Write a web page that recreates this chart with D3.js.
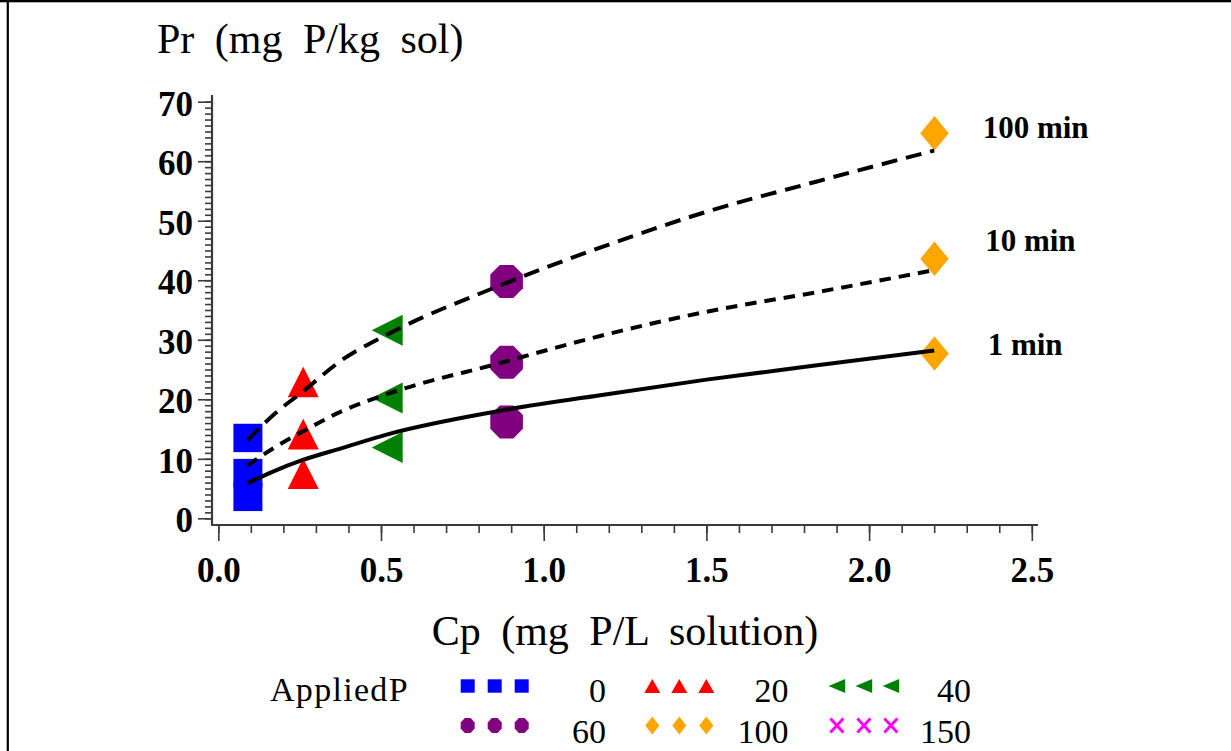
<!DOCTYPE html>
<html>
<head>
<meta charset="utf-8">
<script src="https://cdn.jsdelivr.net/npm/d3@7"></script>
<style>
  html, body { margin: 0; padding: 0; background: #fff; }
  svg { display: block; font-family: "Liberation Serif", "Times New Roman", serif; }
</style>
</head>
<body>
<svg id="chart" width="1231" height="751"></svg>
<script>
// Applied P groups (mg P/kg soil), one marker style each
const appliedP = [0, 20, 40, 60, 100, 150];
const groupColors = ["#0000ff", "#ff0000", "#008000", "#800080", "#ffa500", "#ff00ff"];
const groupShapes = ["square", "triangle", "leftTriangle", "octagon", "diamond", "cross"];

// Observed solution P (Cp) per applied-P group; the 150 group has no plotted observations
const obsCp = [0.091, 0.261, 0.519, 0.886, 2.201, null];
// Retained P (Pr) at the three reaction times, per applied-P group
const obsPr1min = [3.6, 7.5, 11.9, 16.2, 27.7, null];
const obsPr10min = [7.6, 14.15, 20.2, 26.2, 43.6, null];
const obsPr100min = [13.5, 22.9, 31.6, 39.8, 64.7, null];

// Fitted curves at each reaction time
const fitCp = [0.09, 0.17, 0.26, 0.38, 0.52, 0.86, 1.2, 1.5, 1.84, 2.2];
const fit1min = [5.9, 7.9, 9.8, 11.8, 14.1, 18.0, 20.9, 23.3, 25.7, 28.2];
const fit10min = [8.9, 11.8, 14.6, 18.0, 20.9, 26.0, 31.0, 34.7, 38.0, 41.7];
const fit100min = [13.1, 17.4, 21.3, 26.6, 30.9, 39.0, 46.0, 51.5, 56.6, 61.8];
const fitLabels = ["1 min", "10 min", "100 min"];

// Axis ticks
const yMajorTicks = [0, 10, 20, 30, 40, 50, 60, 70];
const xMajorTicks = [0, 0.5, 1.0, 1.5, 2.0, 2.5];
const xTickLabels = ["0.0", "0.5", "1.0", "1.5", "2.0", "2.5"];

const svg = d3.select("#chart");

const x = d3.scaleLinear().domain([0, 2.5]).range([218.3, 1031.8]);
const y = d3.scaleLinear().domain([0, 70]).range([518.3, 101.7]);

const axisX = 212;   // left edge of plot frame
const axisY = 525;   // bottom edge of plot frame

// Outer frame lines
svg.append("rect").attr("x", 0).attr("y", 0).attr("width", 1231).attr("height", 2.3).attr("fill", "#000");
svg.append("rect").attr("x", 6.7).attr("y", 0).attr("width", 2.2).attr("height", 751).attr("fill", "#000");

// Marker path builder: half-width hw, half-height hh
function shapePath(kind, hw, hh) {
  const p = d3.path();
  if (kind === "square") {
    p.rect(-hw, -hh, 2 * hw, 2 * hh);
  } else if (kind === "triangle") {
    p.moveTo(0, -hh); p.lineTo(hw, hh); p.lineTo(-hw, hh); p.closePath();
  } else if (kind === "leftTriangle") {
    p.moveTo(-hw, 0); p.lineTo(hw, -hh); p.lineTo(hw, hh); p.closePath();
  } else if (kind === "diamond") {
    p.moveTo(0, -hh); p.lineTo(hw, 0); p.lineTo(0, hh); p.lineTo(-hw, 0); p.closePath();
  } else if (kind === "octagon") {
    for (let k = 0; k < 8; k++) {
      const a = Math.PI / 8 + k * Math.PI / 4;
      const px = Math.cos(a) * hw / Math.cos(Math.PI / 8);
      const py = Math.sin(a) * hh / Math.cos(Math.PI / 8);
      if (k === 0) p.moveTo(px, py); else p.lineTo(px, py);
    }
    p.closePath();
  } else if (kind === "cross") {
    p.moveTo(-hw, -hh); p.lineTo(hw, hh);
    p.moveTo(hw, -hh); p.lineTo(-hw, hh);
  }
  return p.toString();
}

const plotSize = {
  square: [14.5, 14.2], triangle: [15.5, 15.3], leftTriangle: [15.5, 15.5],
  octagon: [16.3, 16.5], diamond: [14.2, 17.2], cross: [13, 13]
};
const legendSize = {
  square: [7, 6.7], triangle: [8, 6.9], leftTriangle: [8.3, 6.9],
  octagon: [7, 7.4], diamond: [7, 9], cross: [6.5, 7]
};

function drawMarker(g, kind, color, size, cx, cy) {
  const [hw, hh] = size[kind];
  const el = g.append("path")
    .attr("d", shapePath(kind, hw, hh))
    .attr("transform", `translate(${cx},${cy})`);
  if (kind === "cross") {
    el.attr("fill", "none").attr("stroke", color).attr("stroke-width", 3);
  } else {
    el.attr("fill", color);
  }
}

// Observations
const obsLayer = svg.append("g");
const obsRows = [obsPr1min, obsPr10min, obsPr100min];
appliedP.forEach((ap, i) => {
  if (obsCp[i] == null) return;
  obsRows.forEach(row => {
    drawMarker(obsLayer, groupShapes[i], groupColors[i], plotSize, x(obsCp[i]), y(row[i]));
  });
});

// Fitted curves, drawn over the markers
const fits = [fit1min, fit10min, fit100min];
const dashes = [null, "11.5,8", "16,9"];
const line = d3.line()
  .x(d => x(d[0]))
  .y(d => y(d[1]))
  .curve(d3.curveMonotoneX);
fits.forEach((vals, k) => {
  const pts = fitCp.map((c, j) => [c, vals[j]]);
  const path = svg.append("path")
    .attr("d", line(pts))
    .attr("fill", "none")
    .attr("stroke", "#000")
    .attr("stroke-width", 4);
  if (dashes[k]) path.attr("stroke-dasharray", dashes[k]);
});

// Curve labels beside the last fitted point
const labelOffsets = [[53.5, 4.5], [51, -19.4], [48.5, -12.2]];
fits.forEach((vals, k) => {
  const last = vals.length - 1;
  svg.append("text")
    .attr("x", x(fitCp[last]) + labelOffsets[k][0])
    .attr("y", y(vals[last]) + labelOffsets[k][1])
    .attr("font-size", 31)
    .attr("font-weight", "bold")
    .attr("fill", "#000")
    .text(fitLabels[k]);
});

// Axes
const axisColor = "#3a3a3a";
const yAxisMajor = d3.axisLeft(y).tickValues(yMajorTicks).tickSize(14).tickPadding(5).tickFormat(d3.format("d"));
const yAxisMinor = d3.axisLeft(y).tickValues(d3.range(0, 71, 1)).tickSize(7).tickFormat("");
const xAxisMajor = d3.axisBottom(x).tickValues(xMajorTicks).tickSize(16).tickPadding(16)
  .tickFormat((d, i) => xTickLabels[i]);
const xAxisMinor = d3.axisBottom(x).tickValues(d3.range(0, 26, 1).map(v => v / 10)).tickSize(8).tickFormat("");

function styleAxis(g) {
  g.select(".domain").remove();
  g.selectAll(".tick line").attr("stroke", axisColor).attr("stroke-width", 1.6);
  g.selectAll(".tick text")
    .attr("fill", "#000")
    .attr("font-family", "Liberation Serif, serif")
    .attr("font-size", 35)
    .attr("font-weight", "bold");
}

svg.append("g").attr("transform", `translate(${axisX},0)`).call(yAxisMinor).call(styleAxis);
svg.append("g").attr("transform", `translate(${axisX},0)`).call(yAxisMajor).call(styleAxis)
  .selectAll(".tick text").attr("dy", "0.38em");
svg.append("g").attr("transform", `translate(0,${axisY})`).call(xAxisMinor).call(styleAxis);
svg.append("g").attr("transform", `translate(0,${axisY})`).call(xAxisMajor).call(styleAxis);

// Frame lines of the plot area
svg.append("line").attr("x1", axisX).attr("x2", axisX).attr("y1", 95).attr("y2", axisY)
  .attr("stroke", axisColor).attr("stroke-width", 2.2);
svg.append("line").attr("x1", axisX - 1).attr("x2", 1038).attr("y1", axisY).attr("y2", axisY)
  .attr("stroke", axisColor).attr("stroke-width", 2.2);

// Axis titles
svg.append("text")
  .attr("x", 157).attr("y", 53)
  .attr("font-size", 42)
  .attr("word-spacing", 10)
  .attr("fill", "#000")
  .text("Pr (mg P/kg sol)");
svg.append("text")
  .attr("x", 625).attr("y", 645)
  .attr("text-anchor", "middle")
  .attr("font-size", 42)
  .attr("word-spacing", 10)
  .attr("fill", "#000")
  .text("Cp (mg P/L solution)");

// Legend
const legend = svg.append("g");
legend.append("text")
  .attr("x", 270).attr("y", 701)
  .attr("font-size", 34)
  .attr("letter-spacing", 1.3)
  .attr("fill", "#000")
  .text("AppliedP");
appliedP.forEach((ap, i) => {
  const col = i % 3, row = Math.floor(i / 3);
  const mx = 467.7 + col * 184.6;
  const my = 686 + row * 39.5;
  for (let r = 0; r < 3; r++) {
    drawMarker(legend, groupShapes[i], groupColors[i], legendSize, mx + r * 27, my);
  }
  legend.append("text")
    .attr("x", 606 + col * 182.5)
    .attr("y", 701.5 + row * 41)
    .attr("text-anchor", "end")
    .attr("font-size", 34)
    .attr("fill", "#000")
    .text(ap);
});
</script>
</body>
</html>
